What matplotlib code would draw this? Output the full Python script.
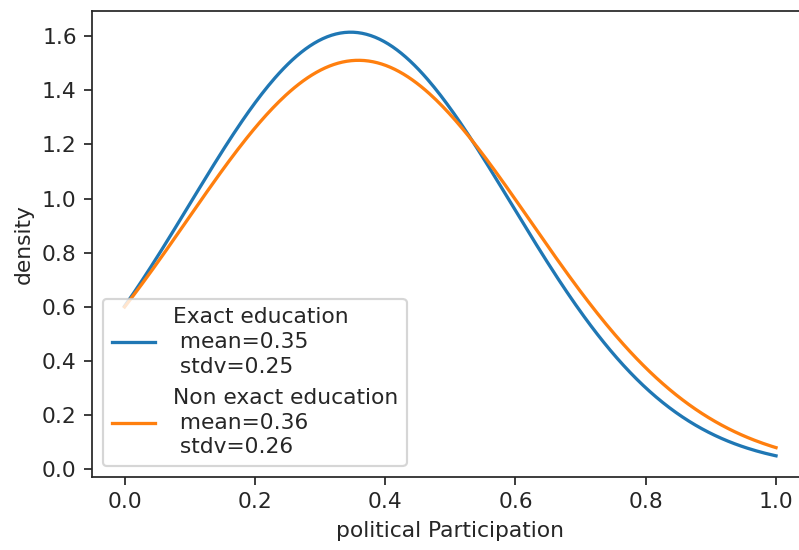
import numpy as np
import matplotlib
matplotlib.use("Agg")
import matplotlib.pyplot as plt

# Group names and fitted normal parameters
groups = ["Exact education", "Non exact education"]
means = [0.347, 0.359]
stdvs = [0.247, 0.264]

x = np.linspace(0, 1, 300)

DPI = 157
plt.rcParams["text.color"] = "#262626"
plt.rcParams["axes.labelcolor"] = "#262626"
plt.rcParams["xtick.color"] = "#262626"
plt.rcParams["ytick.color"] = "#262626"
plt.rcParams["axes.edgecolor"] = "#262626"

fig = plt.figure(figsize=(799 / DPI, 550 / DPI), dpi=DPI)
ax = fig.add_axes([92 / 799, 1 - 477 / 550, 716.6 / 799, 466 / 550])

for name, mu, sd in zip(groups, means, stdvs):
    pdf = np.exp(-0.5 * ((x - mu) / sd) ** 2) / (sd * np.sqrt(2 * np.pi))
    ax.plot(x, pdf, label=f"{name}\n mean={mu:.2f}\n stdv={sd:.2f}")

ax.set_xlabel("political Participation")
ax.set_ylabel("density")
leg = ax.legend(loc="lower left")
for t in leg.get_texts():
    t.set_linespacing(1.3)

fig.savefig("out.png", dpi=DPI)
